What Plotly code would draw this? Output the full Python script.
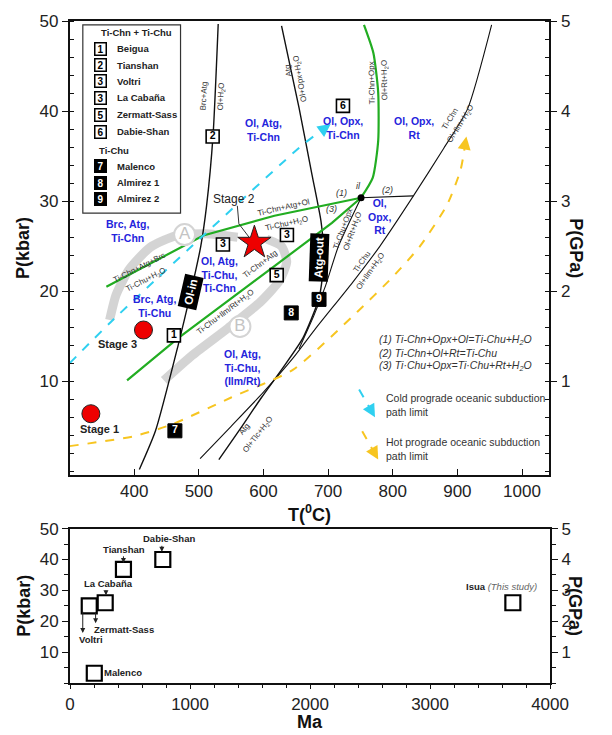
import plotly.graph_objects as go

W, H = 612, 735
FONT = "Liberation Sans, Arial, Helvetica, sans-serif"

# ---------------- TOP PANEL: P-T diagram (T in deg C, P in kbar) ----------------
ol_in_T = [408, 433, 468, 488, 503, 512, 522, 530]
ol_in_P = [0.2, 4.5, 14.0, 20.0, 25.0, 29.5, 37.3, 49.7]

atg_out_T = [628, 655, 675, 689, 693, 691, 685, 661, 630, 597, 563, 531]
atg_out_P = [49.5, 40.4, 33.0, 27.8, 24.5, 21.5, 19.0, 14.8, 11.5, 8.2, 4.6, 1.3]

tichu_ilm_T = [502, 550, 600, 646, 680, 738, 780, 832, 879, 916, 953]
tichu_ilm_P = [1.4, 5.0, 8.8, 12.6, 15.8, 21.0, 25.0, 30.6, 35.9, 40.3, 49.6]

tichu_opx_T = [751, 716, 696, 678, 655]
tichu_opx_P = [30.4, 25.0, 20.6, 17.3, 13.6]

reac2_T = [751, 832]
reac2_P = [30.4, 30.6]

green_upper_T = [357, 507, 617, 751]
green_upper_P = [20.5, 26.2, 28.4, 30.4]
green_lower_T = [389, 468, 617, 706, 751]
green_lower_P = [10.1, 14.8, 22.8, 27.6, 30.4]
green_opx_T = [751, 769, 777.5, 777.5, 770, 755.5]
green_opx_P = [30.4, 32.6, 36.7, 42.1, 46.5, 49.6]

cold_T = [300, 364, 498, 661, 704]
cold_P = [12.0, 16.6, 25.6, 36.3, 38.6]
hot_T = [300, 400, 458, 550, 646, 745, 800, 842, 884, 905, 914]
hot_P = [2.8, 3.9, 5.2, 8.2, 11.3, 17.7, 21.6, 25.0, 29.6, 33.5, 37.2]

path_A_T = [560, 510, 465, 425, 392, 372, 362]
path_A_P = [26.0, 26.4, 26.2, 24.9, 22.4, 19.6, 16.8]
path_B_T = [605, 628, 636, 625, 595, 545, 490, 446]
path_B_P = [25.8, 25.0, 23.3, 21.2, 18.8, 15.9, 12.9, 10.1]
path_lbl = ["A", "B"]
path_lbl_T = [478, 563.6]
path_lbl_P = [26.3, 16.1]

inv_T = [751]
inv_P = [30.4]

star_T = [586]
star_P = [25.4]
stage_T = [333, 414.4]
stage_P = [6.4, 15.7]

open_lbl = ["1", "2", "3", "3", "5", "6"]
open_T = [461.5, 521.4, 537.3, 636.3, 620.5, 723]
open_P = [15.1, 37.2, 25.2, 26.25, 21.8, 40.6]
filled_lbl = ["7", "8", "9"]
filled_T = [463, 643, 686]
filled_P = [4.5, 17.6, 19.1]

legend_open_num = ["1", "2", "3", "3", "5", "6"]
legend_open_name = ["Beigua", "Tianshan", "Voltri", "La Cabaña", "Zermatt-Sass", "Dabie-Shan"]
legend_filled_num = ["7", "8", "9"]
legend_filled_name = ["Malenco", "Almirez 1", "Almirez 2"]

# ---------------- BOTTOM PANEL: age vs pressure ----------------
age_Ma = [160, 293, 445, 773, 202, 3690]
age_P = [25, 26, 36.8, 40, 3.2, 26]

T_ticks = [400, 500, 600, 700, 800, 900, 1000]
P_ticks = [10, 20, 30, 40, 50]
GPa_ticks = [1, 2, 3, 4, 5]
Ma_ticks = [0, 1000, 2000, 3000, 4000]

# ---------------- layout geometry (pixels) ----------------
def px(x):
    return x / W

def py(y):
    return 1 - y / H

TOP_X = [px(67.5), px(566.7)]
TOP_Y = [py(471.7), py(12)]
BOT_X = [px(67.7), px(567.3)]
BOT_Y = [py(682.5), py(526)]

fig = go.Figure()

BLACK = "#111111"
GREEN = "#22ad22"
CYAN = "#2fd0f0"
YELLOW = "#f7c520"
BLUE = "#2424dc"
GRAY_BAND = "rgba(205,205,205,0.85)"


def line(xs, ys, color=BLACK, width=1.2, dash=None, xa="x", ya="y"):
    fig.add_trace(go.Scatter(x=xs, y=ys, mode="lines", xaxis=xa, yaxis=ya,
                             line=dict(color=color, width=width, dash=dash, shape="spline", smoothing=0.6),
                             hoverinfo="skip", showlegend=False))


# gray retrograde paths
line(path_A_T, path_A_P, color=GRAY_BAND, width=9)
line(path_B_T, path_B_P, color=GRAY_BAND, width=9)

# black reaction curves
line(ol_in_T, ol_in_P, width=1.4)
line(atg_out_T, atg_out_P, width=1.4)
line(tichu_ilm_T, tichu_ilm_P, width=1.1)
line(tichu_opx_T, tichu_opx_P, width=1.1)
fig.add_trace(go.Scatter(x=reac2_T, y=reac2_P, mode="lines", line=dict(color=BLACK, width=1.1),
                         hoverinfo="skip", showlegend=False))

# green Ti-clinohumite / Ti-chondrodite curves
fig.add_trace(go.Scatter(x=green_upper_T, y=green_upper_P, mode="lines", line=dict(color=GREEN, width=2.2),
                         hoverinfo="skip", showlegend=False))
fig.add_trace(go.Scatter(x=green_lower_T, y=green_lower_P, mode="lines", line=dict(color=GREEN, width=2.2),
                         hoverinfo="skip", showlegend=False))
line(green_opx_T, green_opx_P, color=GREEN, width=2.2)

# subduction path limits
line(cold_T, cold_P, color=CYAN, width=2, dash="dash")
line(hot_T, hot_P, color=YELLOW, width=2, dash="dash")

annotations = []


def arrow_head(xs, ys, color, xref="x", yref="y", size=1.3, width=2):
    x1, y1 = xs[-1], ys[-1]
    x0 = x1 - 0.2 * (xs[-1] - xs[-2])
    y0 = y1 - 0.2 * (ys[-1] - ys[-2])
    annotations.append(dict(x=x1, y=y1, ax=x0, ay=y0, xref=xref, yref=yref, axref=xref, ayref=yref,
                            text="", showarrow=True, arrowhead=2, arrowsize=size, arrowwidth=width,
                            arrowcolor=color, standoff=0))


arrow_head(cold_T, cold_P, CYAN)
arrow_head(hot_T, hot_P, YELLOW)
arrow_head(path_A_T, path_A_P, "rgba(205,205,205,1)", size=0.55, width=9)
arrow_head(path_B_T, path_B_P, "rgba(205,205,205,1)", size=0.55, width=9)

# key arrows (legend of dashed paths)
key_cold_T = [748, 772.6]
key_cold_P = [9.1, 6.0]
key_hot_T = [752.8, 777.5]
key_hot_P = [4.45, 1.3]
fig.add_trace(go.Scatter(x=key_cold_T, y=key_cold_P, mode="lines", line=dict(color=CYAN, width=2, dash="dash"),
                         hoverinfo="skip", showlegend=False))
fig.add_trace(go.Scatter(x=key_hot_T, y=key_hot_P, mode="lines", line=dict(color=YELLOW, width=2, dash="dash"),
                         hoverinfo="skip", showlegend=False))
arrow_head(key_cold_T, key_cold_P, CYAN, size=1.3)
arrow_head(key_hot_T, key_hot_P, YELLOW, size=1.3)

# circled path letters
fig.add_trace(go.Scatter(x=path_lbl_T, y=path_lbl_P, mode="markers+text", text=path_lbl,
                         textfont=dict(family=FONT, size=17, color="#c4c4c4"),
                         textposition="middle center",
                         marker=dict(symbol="circle", size=21, color="white", line=dict(color="#d4d4d4", width=2)),
                         hoverinfo="skip", showlegend=False))

# Stage 2 leader line
fig.add_trace(go.Scatter(x=[559.6, 562, 580], y=[29.5, 27.5, 25.8], mode="lines",
                         line=dict(color="#333", width=1), hoverinfo="skip", showlegend=False))

# invariant point
fig.add_trace(go.Scatter(x=inv_T, y=inv_P, mode="markers", marker=dict(color="black", size=7),
                         hoverinfo="skip", showlegend=False))

# numbered localities
fig.add_trace(go.Scatter(x=open_T, y=open_P, mode="markers+text", text=["<b>%s</b>" % t for t in open_lbl],
                         textposition="middle center", textfont=dict(family=FONT, size=10.5, color="black"),
                         marker=dict(symbol="square", size=13, color="white", line=dict(color="black", width=1.6)),
                         hoverinfo="skip", showlegend=False))
fig.add_trace(go.Scatter(x=filled_T, y=filled_P, mode="markers+text", text=["<b>%s</b>" % t for t in filled_lbl],
                         textposition="middle center", textfont=dict(family=FONT, size=10.5, color="white"),
                         marker=dict(symbol="square", size=14, color="black", line=dict(color="black", width=1)),
                         hoverinfo="skip", showlegend=False))

# stages
fig.add_trace(go.Scatter(x=stage_T, y=stage_P, mode="markers",
                         marker=dict(symbol="circle", size=18, color="#ee0000", line=dict(color="#222", width=1)),
                         hoverinfo="skip", showlegend=False))
fig.add_trace(go.Scatter(x=star_T, y=star_P, mode="markers",
                         marker=dict(symbol="star", size=25, color="#ee0000", line=dict(color="#222", width=1)),
                         hoverinfo="skip", showlegend=False))

# dummy traces for right axes
fig.add_trace(go.Scatter(x=[None], y=[None], xaxis="x", yaxis="y2", showlegend=False, hoverinfo="skip"))

# ---------- bottom panel ----------
fig.add_trace(go.Scatter(x=age_Ma, y=age_P, xaxis="x2", yaxis="y3", mode="markers",
                         marker=dict(symbol="square-open", size=15, color="black", line=dict(width=2.2)),
                         hoverinfo="skip", showlegend=False))
fig.add_trace(go.Scatter(x=[None], y=[None], xaxis="x2", yaxis="y4", showlegend=False, hoverinfo="skip"))


def ann(text, x, y, size=8, color="#222", angle=0, xanchor="center", xref="x", yref="y", yanchor="middle",
        **kw):
    d = dict(text=text, x=x, y=y, xref=xref, yref=yref, showarrow=False, textangle=angle,
             font=dict(family=FONT, size=size, color=color), xanchor=xanchor, yanchor=yanchor)
    d.update(kw)
    annotations.append(d)


# blue field labels
fields = [
    ("Ol, Atg,<br>Ti-Chn", 600.6, 37.9),
    ("Ol, Opx,<br>Ti-Chn", 723, 38.1),
    ("Ol, Opx,<br>Rt", 833.6, 38.1),
    ("Ol,<br>Opx,<br>Rt", 779, 28.3),
    ("Brc, Atg,<br>Ti-Chn", 390, 26.7),
    ("Ol, Atg,<br>Ti-Chu,<br>Ti-Chn", 531.4, 21.9),
    ("Brc, Atg,<br>Ti-Chu", 430.8, 18.4),
    ("Ol, Atg,<br>Ti-Chu,<br>(Ilm/Rt)", 567, 11.5),
]
for t, x, y in fields:
    ann("<b>%s</b>" % t, x, y, size=10.5, color=BLUE)

# reaction labels along curves
H2O = "H<sub>2</sub>O"
curve_labels = [
    ("Brc+Atg", 507, 41.7, -87),
    ("Ol+" + H2O, 535, 41.7, -87),
    ("Atg", 639, 44.5, -100),
    ("Ol+Opx+" + H2O, 657, 43.6, -100),
    ("Ti-Chn+Opx", 767.7, 43.2, -91),
    ("Ol+Rt+" + H2O, 787.5, 43.4, -91),
    ("Ti-Chn", 889, 39.2, -58),
    ("Ol+Ilm+" + H2O, 905, 38.6, -58),
    ("Ti-Chu", 752.8, 23.3, -55),
    ("Ol+Ilm+" + H2O, 765, 22.2, -55),
    ("Ti-Chu+Opx", 723, 27.0, -70),
    ("Ol+Rt+" + H2O, 738, 26.6, -70),
    ("Ti-Chn+Atg+Ol", 631.4, 29.3, -13),
    ("Ti-Chu+" + H2O, 636.3, 27.5, -13),
    ("Ti-Chn+Atg+Brc", 408.5, 22.6, -27),
    ("Ti-Chu+" + H2O, 418.4, 21.3, -27),
    ("Ti-Chn+Atg", 594, 23.0, -37),
    ("Ti-Chu+Ilm/Rt+" + H2O, 542, 17.7, -37),
    ("Atg", 569.5, 4.7, -52),
    ("Ol+Tlc+" + H2O, 591.7, 4.0, -52),
]
for t, x, y, a in curve_labels:
    ann(t, x, y, size=8, color="#333", angle=a)

for t, x, y in [("(1)", 720.6, 30.9), ("(2)", 792.4, 31.3), ("(3)", 705.6, 29.2), ("il", 747.8, 31.7)]:
    ann("<i>%s</i>" % t, x, y, size=9, color="#333")

# Ol-in / Atg-out tags
ann("<b>Ol-in</b>", 487.7, 19.9, size=11.5, color="white", angle=-77, bgcolor="black", borderpad=3)
ann("<b>Atg-out</b>", 686, 23.7, size=11.5, color="white", angle=-88, bgcolor="black", borderpad=3)

# stage labels
ann("Stage 2", 554.6, 30.3, size=12, color="#222")
ann("<b>Stage 3</b>", 374, 14.1, size=11, color="#222")
ann("<b>Stage 1</b>", 346.5, 4.7, size=11, color="#222")

# reaction equations
reactions = [
    "(1) Ti-Chn+Opx+Ol=Ti-Chu+" + H2O,
    "(2) Ti-Chn+Ol+Rt=Ti-Chu",
    "(3) Ti·Chu+Opx=Ti·Chu+Rt+" + H2O,
]
for t, y in zip(reactions, [14.6, 13.1, 11.75]):
    ann("<i>%s</i>" % t, 776, y, size=10.5, color="#333", xanchor="left")

ann("Cold prograde oceanic subduction<br>path limit", 787, 7.4, size=10.5, color="#333", xanchor="left",
    align="left")
ann("Hot prograde oceanic subduction<br>path limit", 787, 2.5, size=10.5, color="#333", xanchor="left",
    align="left")

# ---------- legend box (pixel placement) ----------
shapes = [dict(type="rect", xref="paper", yref="paper", x0=px(81), x1=px(182.7), y0=py(206.7), y1=py(16),
               line=dict(color="#333", width=1.2), fillcolor="white", layer="above")]
ann("<b>Ti-Chn + Ti-Chu</b>", px(136.7), py(24), size=9.5, xref="paper", yref="paper")
ann("<b>Ti-Chu</b>", px(113), py(143.3), size=9.5, xref="paper", yref="paper")
open_rows = [40, 56.7, 73.3, 90, 107.3, 124.3]
filled_rows = [159, 175.7, 192.3]
for n, name, yy in zip(legend_open_num, legend_open_name, open_rows):
    ann("<b>%s</b>" % n, px(99.3), py(yy), size=10, color="black", xref="paper", yref="paper",
        bgcolor="white", bordercolor="black", borderwidth=1.5, borderpad=0, width=10, height=11)
    ann("<b>%s</b>" % name, px(114.3), py(yy), size=9.5, color="#222", xref="paper", yref="paper",
        xanchor="left")
for n, name, yy in zip(legend_filled_num, legend_filled_name, filled_rows):
    ann("<b>%s</b>" % n, px(99.3), py(yy), size=10, color="white", xref="paper", yref="paper",
        bgcolor="black", bordercolor="black", borderwidth=1.5, borderpad=0, width=10, height=11)
    ann("<b>%s</b>" % name, px(114.3), py(yy), size=9.5, color="#222", xref="paper", yref="paper",
        xanchor="left")

# ---------- bottom panel labels ----------
bot_arrows = [  # (head Ma, head P, tail Ma, tail P)
    (106, 16.2, 106, 23.6),
    (213, 19.4, 213, 23.4),
    (299, 28.4, 299, 30.5),
    (445, 38.9, 445, 41.5),
    (765, 42.5, 765, 44.9),
]
for hx, hy, tx, ty in bot_arrows:
    annotations.append(dict(x=hx, y=hy, ax=tx, ay=ty, xref="x2", yref="y3", axref="x2", ayref="y3",
                            text="", showarrow=True, arrowhead=2, arrowsize=1, arrowwidth=1,
                            arrowcolor="#222", standoff=0))
bot_labels = [
    ("Voltri", 173, 14.0, "center"),
    ("Zermatt-Sass", 452, 17.3, "center"),
    ("La Cabaña", 320, 32.2, "center"),
    ("Tianshan", 453, 43.1, "center"),
    ("Dabie-Shan", 826, 46.8, "center"),
    ("Malenco", 268, 3.3, "left"),
]
for t, x, y, xa in bot_labels:
    ann("<b>%s</b>" % t, x, y, size=9.5, color="#222", xref="x2", yref="y3", xanchor=xa)
ann("<b>Isua</b> <i><span style='color:#666'>(This study)</span></i>", 3906, 31.1, size=9.5, color="#222",
    xref="x2", yref="y3", xanchor="right")

# ---------- axis titles ----------
ann("<b>P(kbar)</b>", px(19), py(241.8), size=18, color="#111", xref="paper", yref="paper", angle=-90)
ann("<b>P(GPa)</b>", px(594), py(241.8), size=18, color="#111", xref="paper", yref="paper", angle=90)
ann("<b>T(<sup>0</sup>C)</b>", px(317), py(511), size=18, color="#111", xref="paper", yref="paper")
ann("<b>P(kbar)</b>", px(19), py(604), size=18, color="#111", xref="paper", yref="paper", angle=-90)
ann("<b>P(GPa)</b>", px(594), py(604), size=18, color="#111", xref="paper", yref="paper", angle=90)
ann("<b>Ma</b>", px(317), py(722), size=18, color="#111", xref="paper", yref="paper")

TICKFONT = dict(family=FONT, size=17, color="#222")
common = dict(showgrid=False, zeroline=False, showline=True, linecolor="#111", linewidth=2,
              tickfont=TICKFONT, tickcolor="#111", tickwidth=1.3)

fig.update_layout(
    width=W, height=H, margin=dict(l=0, r=0, t=0, b=0),
    paper_bgcolor="white", plot_bgcolor="white", showlegend=False,
    font=dict(family=FONT),
    xaxis=dict(domain=TOP_X, anchor="y", range=[300.5, 1042.5], tickvals=T_ticks, ticks="inside",
               ticklen=6, mirror=True, **common),
    yaxis=dict(domain=TOP_Y, anchor="x", range=[-0.4, 50.05], tickvals=P_ticks, ticks="outside",
               ticklen=6, minor=dict(dtick=2, ticks="inside", ticklen=4, tickcolor="#111", showgrid=False),
               **common),
    yaxis2=dict(overlaying="y", anchor="x", side="right", range=[-0.04, 5.005], tickvals=GPa_ticks,
                ticks="outside", ticklen=6,
                minor=dict(dtick=0.2, ticks="inside", ticklen=4, tickcolor="#111", showgrid=False),
                **common),
    xaxis2=dict(domain=BOT_X, anchor="y3", range=[0, 4000], tickvals=Ma_ticks, ticks="outside",
                ticklen=4, mirror=True,
                minor=dict(dtick=200, ticks="outside", ticklen=3, tickcolor="#111", showgrid=False),
                **common),
    yaxis3=dict(domain=BOT_Y, anchor="x2", range=[0, 50], tickvals=P_ticks, ticks="outside", ticklen=6,
                minor=dict(dtick=5, ticks="outside", ticklen=4, tickcolor="#111", showgrid=False),
                **common),
    yaxis4=dict(overlaying="y3", anchor="x2", side="right", range=[0, 5], tickvals=GPa_ticks,
                ticks="outside", ticklen=6,
                minor=dict(dtick=0.5, ticks="outside", ticklen=4, tickcolor="#111", showgrid=False),
                **common),
    annotations=annotations,
    shapes=shapes,
)

fig.write_html("out.html", config={"displayModeBar": False},
               post_script="document.body.style.margin='0px';document.body.style.padding='0px';")
